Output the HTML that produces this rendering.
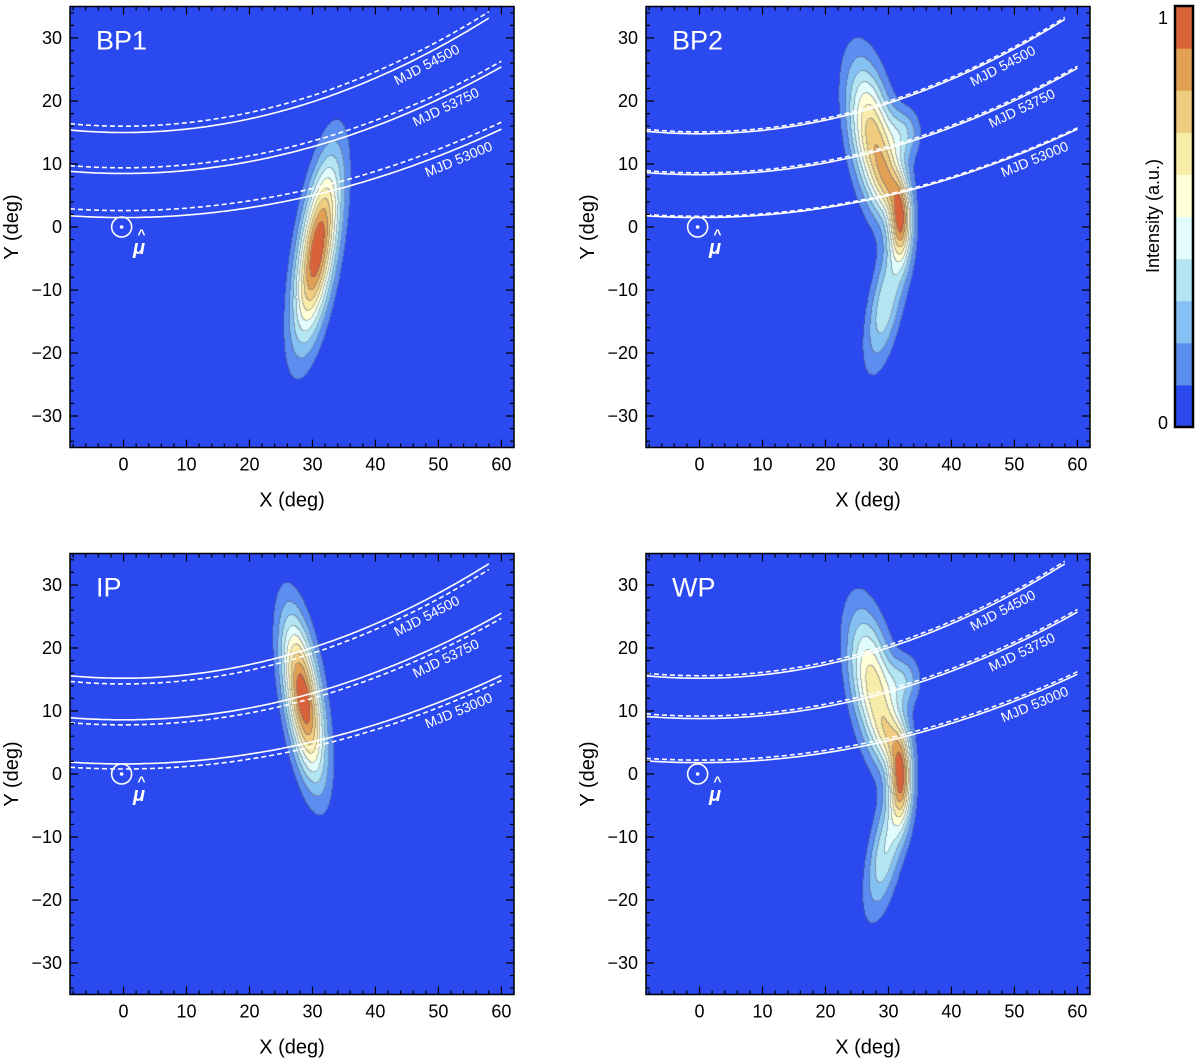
<!DOCTYPE html>
<html><head><meta charset="utf-8"><style>
html,body{margin:0;padding:0;background:#fff;}
#root{position:relative;width:1200px;height:1064px;overflow:hidden;font-family:"Liberation Sans",sans-serif;}
canvas{position:absolute;}
svg{position:absolute;left:0;top:0;}
</style></head><body>
<div id="root">
<canvas id="c0" width="444" height="441" style="left:70px;top:6.5px"></canvas>
<canvas id="c1" width="444" height="441" style="left:646px;top:6.5px"></canvas>
<canvas id="c2" width="444" height="441" style="left:70px;top:553.5px"></canvas>
<canvas id="c3" width="444" height="441" style="left:646px;top:553.5px"></canvas>
<svg id="ov" width="1200" height="1064"></svg>
</div>
<script>
// ---- data ----
const panelNames = ["BP1","BP2","IP","WP"];
const levelColors = ["#2a4af0","#5b8ef0","#85c0f2","#b3e6f2","#e0fcfc","#ffffd8","#f8ecaa","#efcc80","#e2a055","#d8623a"];
// gaussian components: [cx, cy, sx, sy, shear, amp]
const bp1Comps = [[30.8,-3.5,2.0,9.6,0.15,1.0]];
const bp2Comps = [[27.6,14,2.4,8.0,-0.15,0.72],[32,1,1.2,4.5,0.0,0.7],[30.2,7,1.6,3.5,-0.1,0.3],[29.6,-12,1.8,7.0,0.18,0.36],[32.6,15,1.8,2.8,0,0.25]];
const ipComps = [[28.6,12,1.9,8.6,-0.14,1.0]];
const wpComps = [[27.6,14,2.4,8.0,-0.15,0.66],[32,-0.5,1.2,5.0,0.0,0.78],[30.2,6,1.6,3.5,-0.1,0.3],[29.6,-12,1.8,7.0,0.18,0.4],[32.6,15,1.8,2.8,0,0.25]];
const allComps = [bp1Comps,bp2Comps,ipComps,wpComps];
// MJD curves: y = y0 + k*x^2
const mjdLabels = ["MJD 54500","MJD 53750","MJD 53000"];
const curveK = [0.0054,0.0047,0.0039];
const curveEndX = [58,60,60];
const solidY0 = [[15,8.5,1.5],[14.8,8.3,1.5],[15.2,8.6,1.6],[15.2,8.8,1.8]];
const dashY0 = [[16,9.4,2.6],[15.1,8.6,1.7],[14.3,7.8,0.8],[15.6,9.2,2.2]];
const xTicks = [0,10,20,30,40,50,60];
const yTicks = [-30,-20,-10,0,10,20,30];
// ---- geometry ----
const PL=[70,646,70,646], PT=[6.5,6.5,553.5,553.5], PW=444, PH=441;
const XMIN=-8.5,XMAX=62,YMIN=-35,YMAX=35;
function sx(p,x){return PL[p]+(x-XMIN)/(XMAX-XMIN)*PW;}
function sy(p,y){return PT[p]+(YMAX-y)/(YMAX-YMIN)*PH;}
const NS="http://www.w3.org/2000/svg";
const ov=document.getElementById('ov');
function mk(tag,attrs,parent,txt){const e=document.createElementNS(NS,tag);for(const k in attrs)e.setAttribute(k,attrs[k]);if(txt!==undefined)e.textContent=txt;(parent||ov).appendChild(e);return e;}
function field(comps,x,y){let v=0;for(const c of comps){const dy=y-c[1];const dx=x-c[0]-c[4]*dy;v+=c[5]*Math.exp(-(dx*dx/(2*c[2]*c[2])+dy*dy/(2*c[3]*c[3])));}return v;}
for(let p=0;p<4;p++){
  const cv=document.getElementById('c'+p),ctx=cv.getContext('2d');
  const comps=allComps[p];
  let mx=0;const F=new Float32Array(PW*PH);
  for(let j=0;j<PH;j++)for(let i=0;i<PW;i++){const x=XMIN+(i+0.5)/PW*(XMAX-XMIN),y=YMAX-(j+0.5)/PH*(YMAX-YMIN);const v=field(comps,x,y);F[j*PW+i]=v;if(v>mx)mx=v;}
  const L=new Uint8Array(PW*PH);
  for(let k=0;k<F.length;k++)L[k]=Math.min(9,Math.floor(F[k]/mx*10));
  const img=ctx.createImageData(PW,PH);const rgb=levelColors.map(h=>[parseInt(h.substr(1,2),16),parseInt(h.substr(3,2),16),parseInt(h.substr(5,2),16)]);
  for(let j=0;j<PH;j++)for(let i=0;i<PW;i++){const k=j*PW+i;let c=rgb[L[k]];let edge=(i<PW-1&&L[k+1]!==L[k])||(j<PH-1&&L[k+PW]!==L[k]);const o=k*4;
    if(edge){img.data[o]=c[0]*0.55+40;img.data[o+1]=c[1]*0.55+40;img.data[o+2]=c[2]*0.55+50;}else{img.data[o]=c[0];img.data[o+1]=c[1];img.data[o+2]=c[2];}img.data[o+3]=255;}
  ctx.putImageData(img,0,0);
  // curves
  const g=mk('g',{});
  for(let c=0;c<3;c++){
    for(const [arr,dash] of [[solidY0,false],[dashY0,true]]){
      let d='';for(let x=XMIN;x<=curveEndX[c]+0.01;x+=0.5){const y=arr[p][c]+curveK[c]*x*x;d+=(d?'L':'M')+sx(p,x).toFixed(1)+','+sy(p,y).toFixed(1);}
      const e=mk('path',{d:d,fill:'none',stroke:'#fff','stroke-width':1.6,'stroke-dasharray':dash?'5,3':'none'},g);
      
      
    }
    const lx=[48.5,51.5,53.5][c];const ly=Math.min(solidY0[p][c],dashY0[p][c])+curveK[c]*lx*lx-2.6;
    const ang=-Math.atan(2*curveK[c]*lx)*180/Math.PI;
    const t=mk('text',{x:sx(p,lx),y:sy(p,ly),fill:'#fff','font-size':14,'text-anchor':'middle',transform:`rotate(${ang} ${sx(p,lx)} ${sy(p,ly)})`},g,mjdLabels[c]);
    
    
  }
  // mu marker
  mk('circle',{cx:sx(p,-0.3),cy:sy(p,0),r:10,fill:'none',stroke:'#fff','stroke-width':1.6,});
  mk('circle',{cx:sx(p,-0.3),cy:sy(p,0),r:1.8,fill:'#fff',});
  mk('text',{x:sx(p,1.5),y:sy(p,-4.3),fill:'#fff','font-size':20,'font-weight':'bold','font-style':'italic',},null,'μ');
  mk('text',{x:sx(p,2.2),y:sy(p,-1.9),fill:'#fff','font-size':14,'font-weight':'bold',},null,'^');
  mk('text',{x:PL[p]+26,y:PT[p]+43,fill:'#fff','font-size':27,},null,panelNames[p]);
  // frame & ticks
  const ax=mk('g',{});
  mk('rect',{x:PL[p],y:PT[p],width:PW,height:PH,fill:'none',stroke:'#000','stroke-width':1.5},ax);
  let td='';
  for(let x=-8;x<=62;x+=2){const X=sx(p,x);const len=x%10===0?8:4;td+=`M${X},${PT[p]+PH}v${-len}M${X},${PT[p]}v${len}`;}
  for(let y=-34;y<=34;y+=2){const Y=sy(p,y);const len=y%10===0?8:4;td+=`M${PL[p]},${Y}h${len}M${PL[p]+PW},${Y}h${-len}`;}
  mk('path',{d:td,stroke:'#000','stroke-width':1.2,fill:'none'},ax);
  for(const x of xTicks){const t=mk('text',{x:sx(p,x),y:PT[p]+PH+23,'font-size':18,'text-anchor':'middle'},ax,String(x));}
  for(const y of yTicks){const t=mk('text',{x:PL[p]-8,y:sy(p,y)+6,'font-size':18,'text-anchor':'end'},ax,y<0?'−'+(-y):String(y));}
  mk('text',{x:PL[p]+PW/2,y:PT[p]+PH+59,'font-size':20,'text-anchor':'middle',},ax,'X (deg)');
  const yx=PL[p]-52,yy=PT[p]+PH/2;
  mk('text',{x:yx,y:yy,'font-size':20,'text-anchor':'middle',transform:`rotate(-90 ${yx} ${yy})`,},ax,'Y (deg)');
}
// colorbar
const cb=mk('g',{});
const CBX=1175,CBT=6,CBB=427,CBW=18,bh=(CBB-CBT)/levelColors.length;
levelColors.forEach((c,i)=>{const r=mk('rect',{x:CBX,y:CBB-(i+1)*bh,width:CBW,height:bh+0.5,fill:c},cb);});
mk('rect',{x:CBX,y:CBT,width:CBW,height:CBB-CBT,fill:'none',stroke:'#000','stroke-width':2.5},cb);
mk('text',{x:1168,y:24,'font-size':18,'text-anchor':'end',},cb,'1');
mk('text',{x:1168,y:429,'font-size':18,'text-anchor':'end',},cb,'0');
mk('text',{x:1159,y:216,'font-size':18,'text-anchor':'middle',transform:'rotate(-90 1159 216)',},cb,'Intensity (a.u.)');
</script>
</body></html>
